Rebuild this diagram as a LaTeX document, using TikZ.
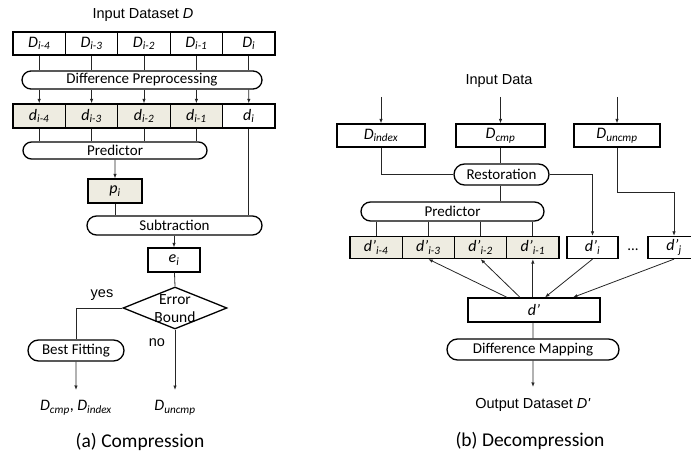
\documentclass[tikz,border=0pt]{standalone}
\usepackage{fontspec}
\setmainfont{Carlito}
\newfontfamily\arialfont{Liberation Sans}
\usetikzlibrary{shapes.geometric,shapes.misc,arrows.meta}
\definecolor{cellfill}{RGB}{238,236,225}
\newcommand{\lbl}[2]{\textit{#1}\textsubscript{\textit{#2}}}
\newcommand{\boxw}{1.3pt}

\begin{document}
\begin{tikzpicture}[x=1pt,y=-1pt,
  every node/.style={font=\fontsize{15}{17}\selectfont},
  cell/.style={draw, line width=\boxw, minimum width=52.4pt, minimum height=23pt, inner sep=0pt, font=\fontsize{16}{18}\selectfont},
  pill/.style={draw, rounded rectangle, line width=\boxw, minimum height=19pt, inner sep=0pt},
  lnk/.style={line width=.8pt, black!85},
  arr/.style={lnk, -{Latex[length=4.5pt,width=3.5pt]}},
  plain/.style={font=\arialfont\fontsize{14.5}{17}\selectfont},
  outlbl/.style={anchor=north, inner xsep=0pt, inner ysep=10pt, font=\fontsize{16}{18}\selectfont},
  caption/.style={font=\fontsize{19.5}{22}\selectfont}]

  \useasboundingbox (0,0) rectangle (691,454);
  \clip (0,0) rectangle (691,454);

  % (a) compression
  \node (title) at (143,15) [plain] {Input Dataset \textit{D}};
  \foreach \k/\s in {0/i-4,1/i-3,2/i-2,3/i-1,4/i}
    \node (D\k) at ({39.2+52.4*\k},43.5) [cell] {\lbl{D}{\s}};
  \foreach \k/\s in {0/i-4,1/i-3,2/i-2,3/i-1}
    \node (d\k) at ({39.2+52.4*\k},116) [cell, fill=cellfill, minimum height=24pt] {\lbl{d}{\s}};
  \node (d4) at (248.8,116) [cell, minimum height=24pt] {\lbl{d}{i}};

  \node (prep) at (142,80) [pill, minimum width=240pt, minimum height=18pt] {Difference Preprocessing};
  \foreach \k in {0,...,4} {
    \draw[lnk] (D\k) -- (D\k |- prep.north);
    \draw[arr] (D\k |- prep.south) -- (d\k);
  }

  \node (predl) at (115,150.5) [pill, minimum width=184pt, minimum height=17pt] {Predictor};
  \foreach \k in {0,...,3}
    \draw[lnk] (d\k) -- (d\k |- predl.north);

  \node (p) at (115,191) [cell, fill=cellfill, minimum width=54pt, minimum height=24pt] {\lbl{p}{i}};
  \draw[arr] (predl) -- (p);

  \node (sub) at (174.5,225.5) [pill, minimum width=175pt] {Subtraction};
  \draw[lnk] (p) -- (p |- sub.north);
  \draw[lnk] (d4) -- (d4 |- sub.north);

  \node (e) at (174,260) [cell, minimum width=52pt, minimum height=24pt] {\lbl{e}{i}};
  \draw[arr] (sub.south -| e) -- (e);

  \node (bound) at (175,308) [diamond, draw, line width=\boxw, minimum width=104pt, minimum height=42pt, inner sep=0pt] {};
  \node (boundtxt) at (175,308.5) [align=center, font=\fontsize{15.5}{17.5}\selectfont] {Error\\Bound};
  \draw[lnk] (e) -- (bound.north);

  \node (fit) at (76,350.5) [pill, minimum width=96pt, minimum height=21pt] {Best Fitting};
  \draw[lnk] (bound.west) -| (fit.north);
  \node (yes) at (102,295) [plain] {yes};
  \node (no) at (157,343) [plain] {no};

  \node (outa) at (76,390) [outlbl] {\lbl{D}{cmp}, \lbl{D}{index}};
  \draw[arr] (fit) -- (outa.north);
  \node (outb) at (175,390) [outlbl] {\lbl{D}{uncmp}};
  \draw[arr] (bound.south) -- (outb.north);

  \node (capa) at (140,442) [caption] {(a) Compression};

  % (b) decompression
  \node (indata) at (499,81) [plain] {Input Data};
  \coordinate (in0) at (381,97);
  \coordinate (in1) at (500.5,97);
  \coordinate (in2) at (617,97);

  \node (dindex) at (381,135.5) [cell, minimum width=88pt] {\lbl{D}{index}};
  \node (dcmp) at (500.5,135.5) [cell, minimum width=89pt] {\lbl{D}{cmp}};
  \node (duncmp) at (617,135.5) [cell, minimum width=86pt] {\lbl{D}{uncmp}};
  \draw[arr] (in0) -- (dindex);
  \draw[arr] (in1) -- (dcmp);
  \draw[arr] (in2) -- (duncmp);

  \node (rest) at (501.5,174.5) [pill, minimum width=95pt, minimum height=21pt] {Restoration};
  \draw[lnk] (dindex) |- (rest);
  \draw[lnk] (dcmp) -- (dcmp |- rest.north);

  \node (predr) at (452.5,211.5) [pill, minimum width=183pt] {Predictor};
  \draw[lnk] (dcmp |- rest.south) -- (dcmp |- predr.north);

  \foreach \k/\s in {0/i-4,1/i-3,2/i-2,3/i-1}
    \node (dp\k) at ({376.1+52.25*\k},247.5) [cell, fill=cellfill, minimum width=52.25pt, minimum height=22pt] {\lbl{d'}{\s}};
  \foreach \k in {0,...,3}
    \draw[lnk] (dp\k |- predr.south) -- (dp\k);

  \node (dpi) at (592.5,247.5) [cell, minimum width=51pt, minimum height=22pt] {\lbl{d'}{i}};
  \node (dots) at (633,250) {...};
  \node (dpj) at (674,247.5) [cell, minimum width=52pt, minimum height=22pt] {\lbl{d'}{j}};
  \draw[arr] (rest) -| (dpi);
  \coordinate (bend) at (617,192);
  \draw[arr] (duncmp) -- (bend) -| (dpj);

  \node (dprime) at (534,310) [cell, minimum width=132pt, minimum height=24pt] {\textit{d'}};
  \draw[arr] ([xshift=-27pt]dprime.north) -- (dp1.south);
  \draw[arr] ([xshift=-14pt]dprime.north) -- (dp2.south);
  \draw[arr] (dprime.north -| dp3) -- (dp3.south);
  \draw[arr] (dpi.south) -- ([xshift=11pt]dprime.north);
  \draw[arr] (dpj.south) -- ([xshift=39pt]dprime.north);

  \node (dmap) at (533,349.5) [pill, minimum width=172pt, minimum height=21pt] {Difference Mapping};
  \draw[lnk] (dprime.south -| dmap) -- (dmap);
  \node (outc) at (533,387) [anchor=north, plain, inner ysep=11pt] {Output Dataset \textit{D'}};
  \draw[arr] (dmap) -- (outc.north);

  \node (capb) at (530,441) [caption] {(b) Decompression};

\end{tikzpicture}
\end{document}
